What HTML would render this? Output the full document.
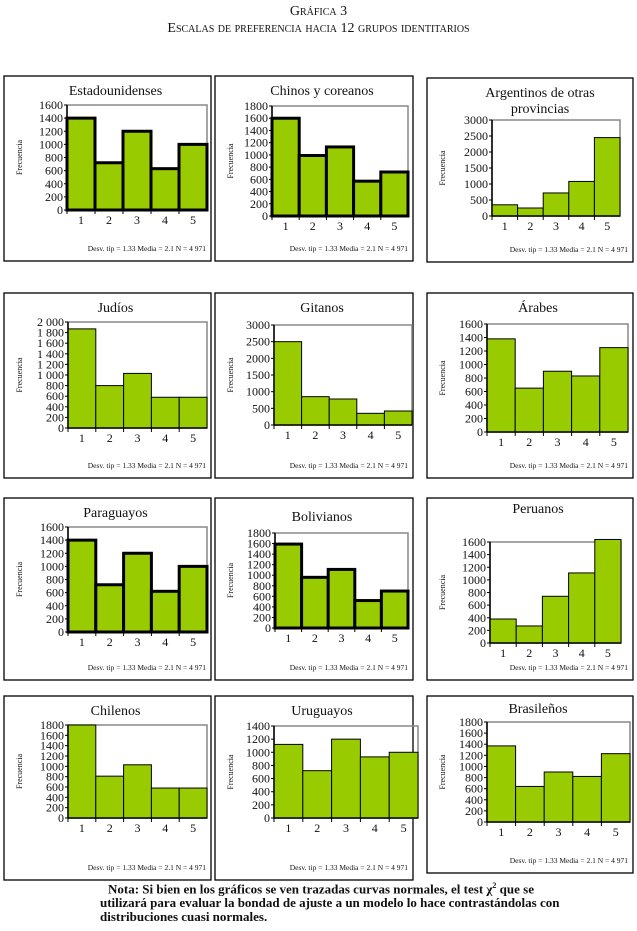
<!DOCTYPE html>
<html><head><meta charset="utf-8"><style>
body{margin:0;background:#fff;width:637px;height:931px;overflow:hidden;font-family:"Liberation Serif",serif;}
#hdr{position:absolute;left:0;top:3px;width:637px;text-align:center;font-variant:small-caps;font-size:14px;line-height:17px;color:#111}
#note{position:absolute;left:100px;top:879px;width:468px;font-size:13px;font-weight:bold;line-height:14px;color:#111;text-align:left;text-indent:8px}
svg{position:absolute;left:0;top:0}
</style></head><body>
<div id="hdr">Gráfica 3<br>Escalas de preferencia hacia 12 grupos identitarios</div>
<svg id="s" width="637" height="931"></svg>
<div id="note">Nota: Si bien en los gráficos se ven trazadas curvas normales, el test χ<sup style="font-size:8px">2</sup> que se utilizará para evaluar la bondad de ajuste a un modelo lo hace contrastándolas con distribuciones cuasi normales.</div>
<script>
const titles=["Estadounidenses","Chinos y coreanos","Argentinos de otras|provincias","Judíos","Gitanos","Árabes","Paraguayos","Bolivianos","Peruanos","Chilenos","Uruguayos","Brasileños"];
const categories=["1","2","3","4","5"];
const v0=[1400,720,1200,630,1000];
const v1=[1600,990,1130,570,720];
const v2=[350,250,720,1080,2450];
const v3=[1870,800,1030,580,580];
const v4=[2500,850,780,350,420];
const v5=[1380,650,900,830,1250];
const v6=[1400,720,1200,620,1000];
const v7=[1590,960,1110,520,700];
const v8=[380,270,740,1110,1640];
const v9=[1800,810,1030,580,580];
const v10=[1120,720,1200,930,1000];
const v11=[1370,640,900,820,1230];
const series=[v0,v1,v2,v3,v4,v5,v6,v7,v8,v9,v10,v11];
const yMax=[1600,1800,3000,2000,3000,1600,1600,1800,1600,1800,1400,1800];
const yStep=[200,200,500,200,500,200,200,200,200,200,200,200];
const statText="Desv. tip = 1.33  Media = 2.1  N = 4 971";
const L=[
 [[4,76,207,185],[67,207,105,210],91,3],
 [[215,76,198,185],[272,408,106,216],91,3],
 [[427,78,206,184],[492,620,120,216],93,1],
 [[4,293,207,185],[68,207,322,428],308,1],
 [[215,293,198,185],[274,412,325,425],308,1],
 [[427,293,206,185],[487,628,324,432],308,1],
 [[4,498,207,182],[68,207,527,632],513,3],
 [[215,498,198,182],[275,408,533,628],517,3],
 [[427,498,206,182],[490,621,542,643],509,1],
 [[4,696,207,184],[68,207,725,818],711,1],
 [[215,696,198,184],[274,418,726,818],711,1],
 [[427,696,206,177],[487,630,722,822],709,1]];
const S=document.getElementById('s'),NS="http://www.w3.org/2000/svg";
function mk(t,a,p){const e=document.createElementNS(NS,t);for(const k in a)e.setAttribute(k,a[k]);(p||S).appendChild(e);return e;}
function fmt(v,i){return i===3&&v>=1000?String(v).replace(/(\d)(\d{3})$/,'$1 $2'):String(v);}
series.forEach((vals,i)=>{
 const [pn,pl,ty,sw]=L[i];
 const g=mk('g',{});
 
 
 const pr=mk('rect',{x:pn[0],y:pn[1],width:pn[2],height:pn[3],fill:'none',stroke:'#000','stroke-width':1.3},g);
 
 
 const [x0,x1,yt,yb]=pl;
 const ys=v=>yb-(v/yMax[i])*(yb-yt);
 const xs=k=>x0+k*(x1-x0)/categories.length;
 mk('rect',{x:x0,y:yt,width:x1-x0,height:yb-yt,fill:'none',stroke:'#888','stroke-width':1.5},g);
 const tl=titles[i].split('|');
 tl.forEach((t,j)=>{const e=mk('text',{x:(pn[0]+pn[2]/2+ (i===2?10:8)),y:ty+j*16+4,'text-anchor':'middle','font-size':14,fill:'#111'},g);e.textContent=t;
  
  });
 vals.forEach((v,k)=>{const b=mk('rect',{x:xs(k),y:ys(v),width:xs(k+1)-xs(k),height:yb-ys(v),fill:'#99cc00',stroke:'#000','stroke-width':sw},g);
  
  
  const t=mk('text',{x:(xs(k)+xs(k+1))/2,y:yb+14,'text-anchor':'middle','font-size':12,fill:'#111'},g);t.textContent=categories[k];
  
  
  mk('line',{x1:xs(k),x2:xs(k),y1:yb,y2:yb+4,stroke:'#000'},g);});
 mk('line',{x1:x0,x2:x1,y1:yb,y2:yb,stroke:'#000','stroke-width':1.5},g);
 mk('line',{x1:x0,x2:x0,y1:yt,y2:yb,stroke:'#000','stroke-width':1.5},g);
 for(let v=0;v<=yMax[i];v+=yStep[i]){const t=mk('text',{x:x0-4,y:ys(v)+4,'text-anchor':'end','font-size':12,fill:'#111'},g);t.textContent=fmt(v,i);
  
  
  mk('line',{x1:x0-3,x2:x0,y1:ys(v),y2:ys(v),stroke:'#000'},g);}
 const fx=pn[0]+18,fy=(yt+yb)/2;
 const f=mk('text',{x:fx,y:fy,'text-anchor':'middle','font-size':8,fill:'#111',transform:`rotate(-90 ${fx} ${fy})`},g);f.textContent="Frecuencia";
 
 
 const st=mk('text',{x:pn[0]+pn[2]-5,y:pn[1]+pn[3]-10,'text-anchor':'end','font-size':7.5,fill:'#111'},g);st.textContent=statText;
 
 
});
</script>
</body></html>
